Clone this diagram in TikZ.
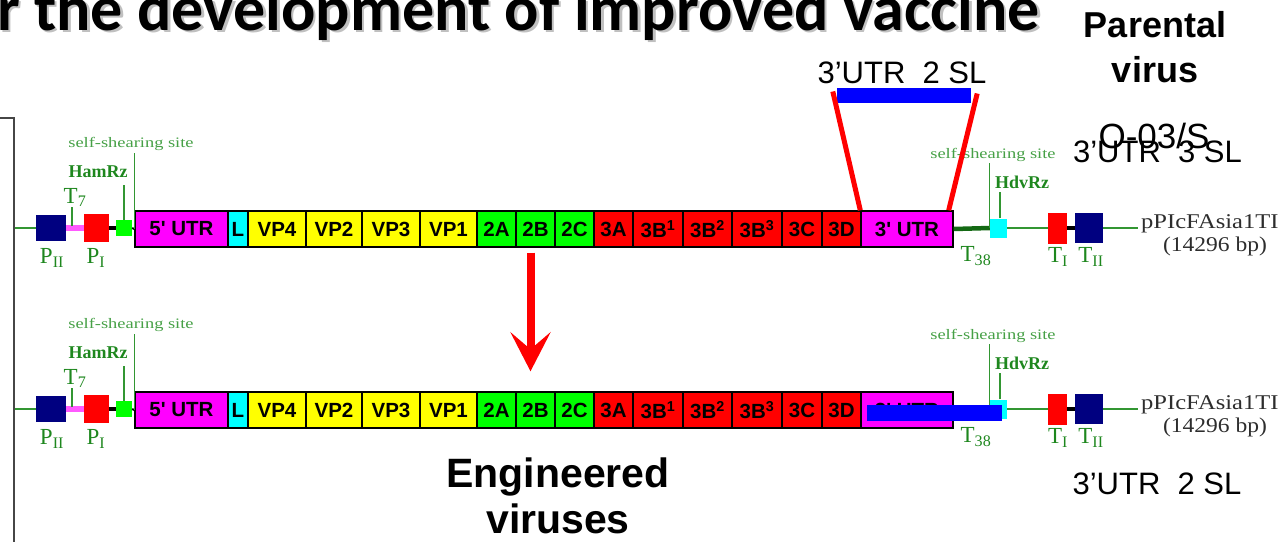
\documentclass[tikz,border=0pt]{standalone}
\usepackage{fontspec}
\setmainfont{Liberation Serif}
\newfontfamily\arial{Liberation Sans}
\newfontfamily\calibri{Carlito}
\usetikzlibrary{arrows.meta}

\definecolor{labgreen}{RGB}{30,135,30}
\definecolor{ssgreen}{RGB}{70,160,70}
\definecolor{lineg}{RGB}{50,150,50}
\definecolor{darkg}{RGB}{20,105,20}
\definecolor{navyb}{RGB}{0,0,128}
\definecolor{segmag}{RGB}{255,0,255}
\definecolor{segcyan}{RGB}{0,255,255}
\definecolor{segyel}{RGB}{255,255,0}
\definecolor{seggrn}{RGB}{0,255,0}
\definecolor{segred}{RGB}{255,0,0}
\definecolor{pinkc}{RGB}{255,90,255}
\definecolor{plasgray}{RGB}{45,45,45}
\definecolor{framegray}{RGB}{70,70,70}

% one copy of the plasmid map; #1 = vertical offset, #2 = node prefix
\newcommand\plasrow[2]{%
\begin{scope}[shift={(0,#1)}]
  \foreach \nm/\xa/\xb/\col/\lab in {%
      utrA/135/228/segmag/{5' UTR}, L/228/248/segcyan/L,
      vp4/248/306/segyel/VP4, vp2/306/362/segyel/VP2,
      vp3/362/420/segyel/VP3, vp1/420/477/segyel/VP1,
      a2/477/516/seggrn/2A, b2/516/555/seggrn/2B, c2/555/594/seggrn/2C,
      a3/594/633/segred/3A, b31/633/683/segred/{3B\textsuperscript{1}},
      b32/683/732/segred/{3B\textsuperscript{2}},
      b33/732/782/segred/{3B\textsuperscript{3}},
      c3/782/822/segred/3C, d3/822/861/segred/3D,
      utrB/861/953/segmag/{3' UTR}}{%
    \node[seg, fill=\col, minimum width={(\xb-\xa)*1pt}] (#2-\nm)
      at ({(\xa+\xb)/2},229) {\lab};
  }
  % 5' flank: promoters, T7 and hammerhead ribozyme
  \coordinate (#2-in) at (15,228);
  \node[elbox, fill=navyb, minimum width=30pt, minimum height=26pt] (#2-p2) at (51,228) {};
  \node[elbox, fill=segred, minimum width=25pt, minimum height=28pt] (#2-p1) at (96.5,228) {};
  \node[elbox, fill=seggrn, minimum width=16pt, minimum height=16pt] (#2-gsq) at (124,228) {};
  \draw[gline] (#2-in) -- (#2-p2.west);
  \draw[pinkc, line width=6pt] (#2-p2.east) -- (#2-p1.west);
  \draw[black, line width=4pt] (#2-p1.east) -- (#2-gsq.west);
  \draw[black, line width=2pt] (#2-gsq.east) -- (#2-utrA.west);
  \node[glab] (#2-lp2) at (52,258) {P\textsubscript{II}};
  \node[glab] (#2-lp1) at (96,258) {P\textsubscript{I}};
  \node[glab, anchor=south] (#2-t7) at (75,207) {T\textsubscript{7}};
  \draw[tick] ([xshift=-3pt]#2-t7.south) -- ++(0,19);
  \node[bglab] (#2-ham) at (98,172) {HamRz};
  \draw[tick] (#2-gsq.north) -- ++(0,-35);
  \node[sslab] (#2-ssl) at (131,144) {\scalebox{1.27}[1]{self-shearing site}};
  \draw[tick] (#2-utrA.west) -- ++(0,-76);
  % 3' flank: HDV ribozyme and terminators
  \node[elbox, fill=segcyan, minimum width=17pt, minimum height=19pt] (#2-hdv) at (998.5,228) {};
  \node[elbox, fill=segred, minimum width=19pt, minimum height=31pt] (#2-ti) at (1057.5,228) {};
  \node[elbox, fill=navyb, minimum width=28pt, minimum height=30pt] (#2-tii) at (1089,228) {};
  \coordinate (#2-out) at (1138,228);
  \draw[darkg, line width=4.5pt] (#2-utrB.east) -- (#2-hdv.west);
  \draw[gline] (#2-hdv.east) -- (#2-ti.west);
  \draw[black, line width=4pt] (#2-ti.east) -- (#2-tii.west);
  \draw[gline] (#2-tii.east) -- (#2-out);
  \node[sslab] (#2-ssr) at (993,155) {\scalebox{1.27}[1]{self-shearing site}};
  \draw[tick] (#2-hdv.west) -- ++(0,-65);
  \node[bglab] (#2-hdvl) at (1022,182) {HdvRz};
  \draw[tick] ([xshift=1.5pt]#2-hdv.north) -- ++(0,-26);
  \node[glab] (#2-t38) at (976,256) {T\textsubscript{38}};
  \node[glab] (#2-lti) at (1058,257) {T\textsubscript{I}};
  \node[glab] (#2-ltii) at (1091,257) {T\textsubscript{II}};
  \node[plas, anchor=west] (#2-name) at (1141,224) {\scalebox{1.17}[1]{pPIcFAsia1TI}};
  \node[plas] (#2-size) at (1215,246) {\scalebox{1.12}[1]{(14296 bp)}};
\end{scope}}

\begin{document}
\begin{tikzpicture}[x=1pt, y=-1pt,
  seg/.style={draw=black, line width=1.4pt, inner sep=0pt, minimum height=36pt,
    text=black, font=\arial\bfseries\fontsize{20.5}{20.5}\selectfont},
  elbox/.style={inner sep=0pt, draw=none},
  gline/.style={lineg, line width=1.6pt},
  tick/.style={lineg, line width=1.2pt},
  glab/.style={inner sep=0pt, text=labgreen, font=\fontsize{23}{23}\selectfont},
  bglab/.style={inner sep=0pt, text=labgreen, font=\bfseries\fontsize{18}{18}\selectfont},
  sslab/.style={inner sep=0pt, text=ssgreen, font=\fontsize{14.5}{14.5}\selectfont},
  plas/.style={inner sep=0pt, text=plasgray, font=\fontsize{21}{21}\selectfont},
  bigsans/.style={inner sep=0pt, font=\arial\bfseries\fontsize{36}{36}\selectfont},
  slabel/.style={inner sep=0pt, font=\arial\fontsize{31}{31}\selectfont},
  redline/.style={segred, line width=5pt},
  bigarrow/.style={segred, line width=8pt,
    -{Stealth[length=39pt, width=40pt, inset=17pt]}},
]
\useasboundingbox (0,0) rectangle (1280,541);

% slide title, cut at the top edge, with its soft shadow
\node[anchor=base west, inner sep=0pt, text=black!45, opacity=.55,
  font=\calibri\bfseries\fontsize{64}{64}\selectfont] (titleshadow) at (-0.5,32.5)
  {r the development of improved vaccine};
\node[anchor=base west, inner sep=0pt,
  font=\calibri\bfseries\fontsize{64}{64}\selectfont] (title) at (-3,30)
  {r the development of improved vaccine};

% frame edge on the left
\draw[framegray, line width=1.5pt] (-1,118) -| (14,542);

% parental and engineered constructs
\plasrow{0}{r1}
\plasrow{181}{r2}

% parental 3'UTR stem-loop region
\node[elbox, fill=blue, minimum width=134pt, minimum height=15pt] (sltop) at (904,95.5) {};
\node[slabel, anchor=base] (sltoplab) at (902,83) {3’UTR\ \ 2 SL};
\draw[redline] ([shift={(-4,-4)}]sltop.west) -- (r1-utrB.north west);
\draw[redline] ([shift={(6,-2)}]sltop.east) -- ([xshift=-5pt]r1-utrB.north east);

% replacement stem-loop on the engineered construct
\node[elbox, fill=blue, minimum width=135pt, minimum height=16pt] (slbot) at (934.5,413) {};

% arrow from parental to engineered construct
\draw[bigarrow] ([shift={(-5,5)}]r1-b2.south) -- ([shift={(-5,-20)}]r2-b2.north);

% side captions
\node[bigsans, anchor=base] (parental) at (1155,37) {Parental};
\node[bigsans, anchor=base] (virus) at (1155,82) {virus};
\node[slabel, anchor=base, font=\arial\fontsize{35}{35}\selectfont] (strain) at (1154,148) {O-03/S};
\node[slabel, anchor=base] (sl3) at (1157.5,162) {3’UTR\ \ 3 SL};
\node[slabel, anchor=base] (sl2) at (1157,494) {3’UTR\ \ 2 SL};
\node[bigsans, anchor=base, font=\arial\bfseries\fontsize{41}{41}\selectfont] (eng) at (558,487) {Engineered};
\node[bigsans, anchor=base, font=\arial\bfseries\fontsize{41}{41}\selectfont] (engv) at (558,533) {viruses};
\end{tikzpicture}
\end{document}
